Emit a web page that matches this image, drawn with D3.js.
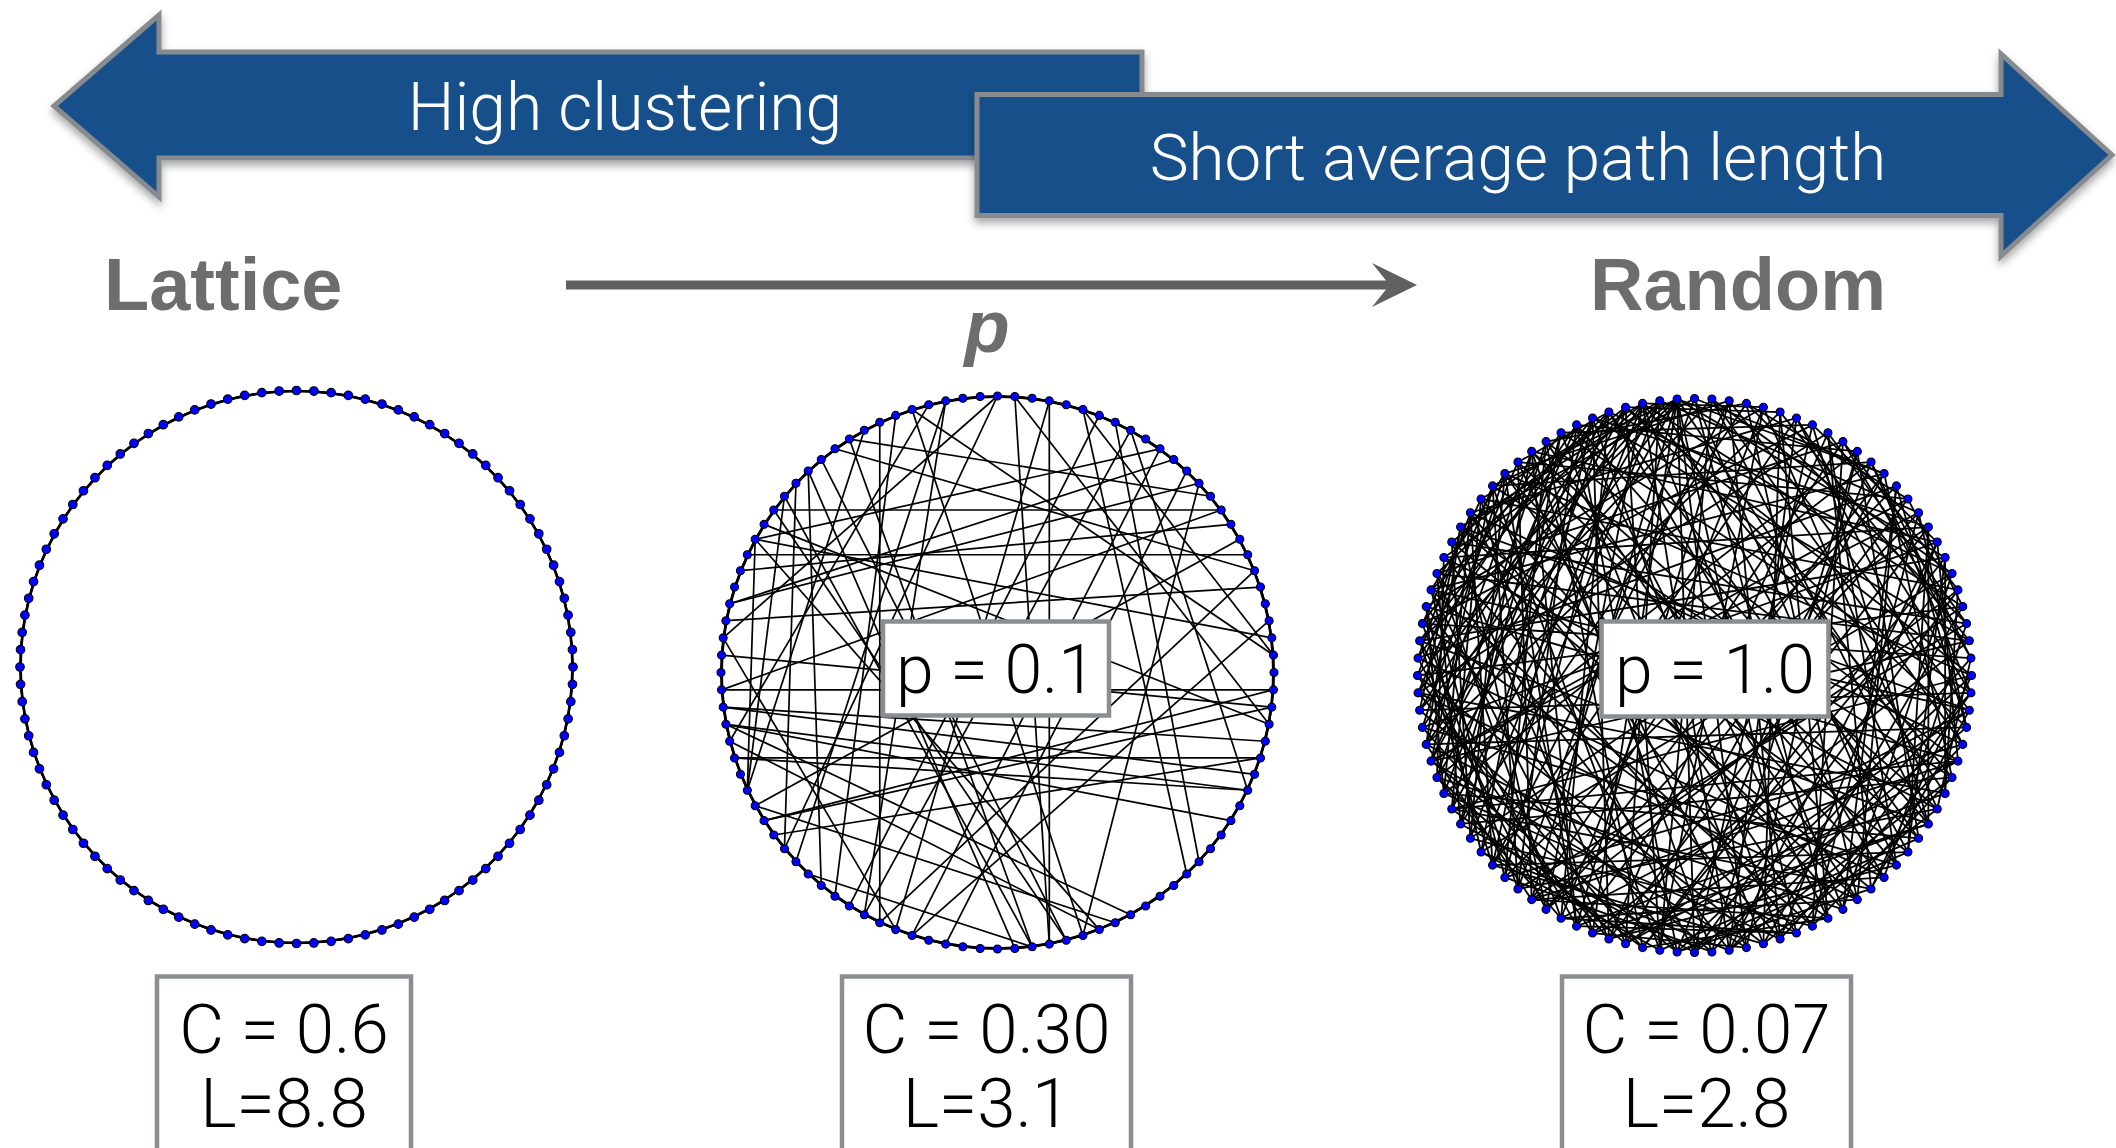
<!DOCTYPE html>
<html><head><meta charset="utf-8">
<script src="https://cdn.jsdelivr.net/npm/d3@7"></script>
<style>html,body{margin:0;padding:0;background:#fff;overflow:hidden}</style>
</head><body>
<svg id="chart" width="2116" height="1148"></svg>
<script>
// ---------------- data ----------------
const nodeCount = 100;
const latticeNeighbours = [1, 2, 3];           // ring lattice, k = 6
const arrowLabels = ["High clustering", "Short average path length"];
const endLabels = ["Lattice", "Random"];
const axisLabel = "p";
const pLabels = [null, "p = 0.1", "p = 1.0"];
const clusteringLabels = ["C = 0.6", "C = 0.30", "C = 0.07"];
const pathLengthLabels = ["L=8.8", "L=3.1", "L=2.8"];

// rewired long-range chords of the p = 0.1 network (node pairs)
const smallWorldChords = [
  [82,18],[93,57],[3,47],[1,47],[83,68],[88,61],
  [73,29],[72,32],[73,31],[70,32],[72,34],[72,42],[65,30],[66,26],[27,66],[27,76],[26,74],[30,70],
  [85,15],[81,16],[79,11],[83,23],[84,28],[90,19],[91,14],[95,24],[95,45],[94,60],[97,58],[96,71],[0,77],[0,64],
  [1,28],[3,56],[5,24],[6,59],[8,58],[10,55],[10,83],[13,79],[15,74],[17,67],[20,78],
  [32,8],[37,7],[38,5],[43,67],[44,71],[45,13],[48,91],
  [63,97],[62,48],[57,19],[55,22],[53,12],[68,86],
  [87,64],[89,46],[92,68],[88,49],[86,48],[85,46],[83,44],[77,56]
];

// edges of the p = 1.0 network (estimated, the picture is too dense to read every line)
const randomEdges = [
  [0,37],[0,61],[0,84],[1,52],[1,19],[1,73],[2,45],[2,88],[2,27],[3,66],[3,14],[3,91],
  [4,58],[4,33],[4,79],[5,71],[5,42],[5,96],[6,29],[6,63],[6,85],[7,50],[7,17],[7,92],
  [8,39],[8,74],[8,55],[9,81],[9,24],[9,60],[10,47],[10,93],[10,35],[11,68],[11,26],[11,87],
  [12,54],[12,99],[12,31],[13,76],[13,40],[13,62],[14,89],[14,57],[14,21],[15,43],[15,70],[15,98],
  [16,65],[16,34],[16,82],[17,90],[17,48],[17,72],[18,53],[18,77],[18,36],[19,64],[19,95],[19,41],
  [20,86],[20,59],[20,32],[21,75],[21,46],[21,97],[22,61],[22,38],[22,83],[23,94],[23,56],[23,70],
  [24,49],[24,78],[24,33],[25,67],[25,88],[25,51],[26,92],[26,44],[26,73],[27,58],[27,80],[27,39],
  [28,71],[28,96],[28,50],[29,85],[29,62],[29,45],[30,79],[30,54],[30,91],[31,66],[31,87],[31,48],
  [32,99],[32,74],[32,57],[33,61],[33,82],[33,46],[34,77],[34,93],[34,55],[35,68],[35,89],[35,52],
  [36,84],[36,63],[36,98],[37,72],[37,55],[37,90],[38,95],[38,76],[38,60],[39,83],[39,67],[39,51],
  [40,91],[40,74],[40,58],[41,86],[41,69],[41,97],[42,78],[42,60],[42,93],[43,88],[43,65],[43,80],
  [44,99],[44,71],[44,57],[45,82],[45,68],[45,94],[46,75],[46,92],[46,63],[47,89],[47,70],[47,56],
  [48,81],[48,97],[48,64],[49,73],[49,90],[49,62],[50,85],[50,66],[50,99],[51,79],[51,93],[51,70],
  [52,87],[52,64],[52,96],[53,74],[53,91],[53,67],[54,98],[54,83],[54,69],[55,80],[55,94],[55,72],
  [56,86],[56,99],[56,75],[57,90],[57,77],[57,88],[58,95],[58,81],[58,69],[59,84],[59,97],[59,76],
  [60,89],[60,71],[60,99],[61,93],[61,78],[61,87],[62,96],[62,80],[62,91],[63,85],[63,94],[63,77],
  [64,92],[64,79],[64,98],[65,88],[65,97],[65,83],[66,95],[66,81],[66,90],[67,99],[67,86],[67,92],
  [68,94],[68,79],[68,85],[69,91],[69,98],[69,82],[70,87],[70,96],[70,93],[71,99],[71,84],[71,90],
  [72,97],[72,88],[73,95],[73,84],[74,96],[74,89],[75,98],[75,87],[76,93],[76,85],[77,99],[77,94],
  [78,92],[78,86],[80,97],[80,88],[81,95],[82,99],[83,96],[84,98],[86,97],[87,99],[89,95],
  [0,12],[1,34],[2,63],[3,40],[4,97],[5,23],[6,48],[7,78],[8,22],[9,43],[10,69],[11,51],
  [12,80],[13,28],[14,70],[15,59],[16,94],[17,30],[18,99],[19,53],[20,9],[21,60],[22,3],[23,81],
  [24,11],[25,96],[26,6],[27,84],[28,15],[29,1],[30,67],[31,97],[32,18],[33,90],[34,7],[35,95],
  [36,16],[37,8],[38,88],[39,25],[40,84],[41,13],[42,0],[43,31],[44,85],[45,17],[46,5],[47,99],
  [48,26],[49,10],[50,20],[51,36],[52,4],[53,42],[54,27],[55,16],[56,34],[57,2],[58,44],[59,12],[60,30]
];

// ---------------- drawing ----------------
const svg = d3.select("#chart");
const lightFont = "Roboto, 'Open Sans', 'Liberation Sans', sans-serif";
const boldFont = "'Liberation Sans', Arial, sans-serif";
const arrowFill = "#17508a", arrowStroke = "#878b90", boxStroke = "#8a8d92", grayText = "#6d6d6d";

const defs = svg.append("defs");
const flt = defs.append("filter").attr("id", "shadow")
  .attr("x", "-5%").attr("y", "-20%").attr("width", "110%").attr("height", "150%");
flt.append("feDropShadow").attr("dx", 0).attr("dy", 5).attr("stdDeviation", 4)
  .attr("flood-color", "#000").attr("flood-opacity", 0.35);

// big block arrows
const line = d3.line();
const leftArrow = [[1142,52],[159,52],[159,15],[54,106],[159,197],[159,158],[1142,158]];
const rightArrow = [[977,94.5],[2001,94.5],[2001,54],[2112,155],[2001,256],[2001,215.5],[977,215.5]];
[leftArrow, rightArrow].forEach(pts => {
  svg.append("path").attr("d", line(pts) + "Z")
    .attr("fill", arrowFill).attr("stroke", arrowStroke).attr("stroke-width", 5)
    .attr("stroke-linejoin", "miter").attr("filter", "url(#shadow)");
});
svg.append("text").attr("x", 625).attr("y", 130).attr("text-anchor", "middle")
  .attr("font-family", lightFont).attr("font-weight", 300).attr("font-size", 66)
  .attr("fill", "#fff").text(arrowLabels[0]);
svg.append("text").attr("x", 1518).attr("y", 180).attr("text-anchor", "middle")
  .attr("font-family", lightFont).attr("font-weight", 300).attr("font-size", 65.5)
  .attr("fill", "#fff").text(arrowLabels[1]);

// end labels
svg.append("text").attr("x", 104).attr("y", 310)
  .attr("font-family", boldFont).attr("font-weight", 700).attr("font-size", 74)
  .attr("fill", grayText).text(endLabels[0]);
svg.append("text").attr("x", 1590).attr("y", 310)
  .attr("font-family", boldFont).attr("font-weight", 700).attr("font-size", 74)
  .attr("fill", grayText).text(endLabels[1]);

// p arrow
const pArrow = [[566,280.5],[1386,280.5],[1372,263],[1417,285],[1372,307],[1386,289.5],[566,289.5]];
svg.append("path").attr("d", line(pArrow) + "Z").attr("fill", "#606060");
svg.append("text").attr("x", 987).attr("y", 352).attr("text-anchor", "middle")
  .attr("font-family", boldFont).attr("font-weight", 700).attr("font-style", "italic")
  .attr("font-size", 74).attr("fill", grayText).text(axisLabel);

// networks
const panels = [
  {cx: 296.5, cy: 667, r: 276.5, nodeR: 4.3, edgeW: 1.6},
  {cx: 997.5, cy: 672.5, r: 276.5, nodeR: 4.0, edgeW: 1.7},
  {cx: 1694.5, cy: 675.5, r: 277, nodeR: 4.0, edgeW: 1.8}
];
const nodes = d3.range(nodeCount);
const latticeEdges = [];
nodes.forEach(i => latticeNeighbours.forEach(d => latticeEdges.push([i, (i + d) % nodeCount])));
const edgeSets = [latticeEdges, latticeEdges.concat(smallWorldChords), randomEdges];

const angle = d3.scaleLinear().domain([0, nodeCount]).range([-Math.PI / 2, 1.5 * Math.PI]);

panels.forEach((p, k) => {
  const g = svg.append("g");
  const px = i => p.cx + p.r * Math.cos(angle(i));
  const py = i => p.cy + p.r * Math.sin(angle(i));
  g.selectAll("line").data(edgeSets[k]).join("line")
    .attr("x1", d => px(d[0])).attr("y1", d => py(d[0]))
    .attr("x2", d => px(d[1])).attr("y2", d => py(d[1]))
    .attr("stroke", "#000").attr("stroke-width", p.edgeW);
  g.selectAll("circle").data(nodes).join("circle")
    .attr("cx", px).attr("cy", py).attr("r", p.nodeR)
    .attr("fill", "#0000ff").attr("stroke", "#000").attr("stroke-width", 1.1);
});

// p boxes
const pBoxes = [null, {x: 883, y: 621.5, w: 226, h: 94}, {x: 1601.5, y: 621.5, w: 227, h: 95}];
pBoxes.forEach((b, k) => {
  if (!b) return;
  svg.append("rect").attr("x", b.x).attr("y", b.y).attr("width", b.w).attr("height", b.h)
    .attr("fill", "#fff").attr("stroke", boxStroke).attr("stroke-width", 4.5);
  svg.append("text").attr("x", b.x + b.w / 2).attr("y", 693).attr("text-anchor", "middle")
    .attr("font-family", lightFont).attr("font-weight", 300).attr("font-size", 68)
    .attr("fill", "#000").text(pLabels[k]);
});

// metric boxes
const metricBoxes = [{x: 157, w: 254}, {x: 842, w: 289}, {x: 1562, w: 289}];
metricBoxes.forEach((b, k) => {
  svg.append("rect").attr("x", b.x).attr("y", 976.5).attr("width", b.w).attr("height", 300)
    .attr("fill", "#fff").attr("stroke", boxStroke).attr("stroke-width", 4.5);
  svg.append("text").attr("x", b.x + b.w / 2).attr("y", 1053).attr("text-anchor", "middle")
    .attr("font-family", lightFont).attr("font-weight", 300).attr("font-size", 69)
    .attr("fill", "#000").text(clusteringLabels[k]);
  svg.append("text").attr("x", b.x + b.w / 2).attr("y", 1127).attr("text-anchor", "middle")
    .attr("font-family", lightFont).attr("font-weight", 300).attr("font-size", 69)
    .attr("fill", "#000").text(pathLengthLabels[k]);
});
</script>
</body></html>
